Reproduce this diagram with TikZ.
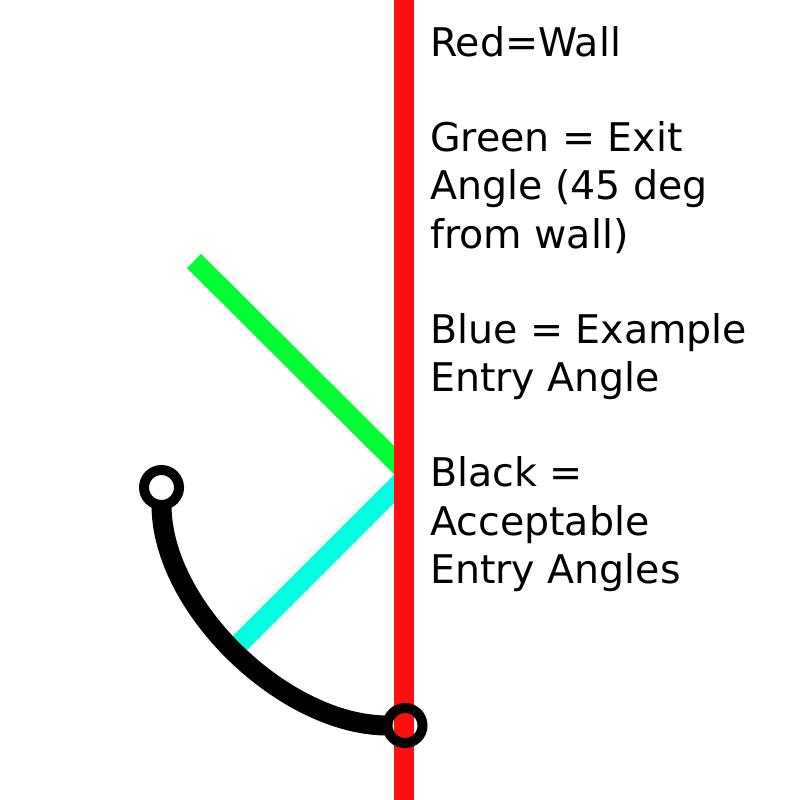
\documentclass[tikz,border=0pt]{standalone}
\usepackage{fontspec}
\setmainfont{DejaVu Sans}
\usetikzlibrary{backgrounds}
\definecolor{wallred}{RGB}{255,16,16}
\definecolor{exitgreen}{RGB}{0,255,50}
\definecolor{entrycyan}{RGB}{0,255,222}
\tikzset{%
	wall/.style={draw=wallred, line width=20pt},
	exitray/.style={draw=exitgreen, line width=20pt},
	entryray/.style={draw=entrycyan, line width=20pt},
	okarc/.style={draw=black, line width=20pt, shorten <=17.5pt, shorten >=17.5pt},
	endpt/.style={draw=black, line width=10pt, circle, minimum size=35pt, inner sep=0pt, outer sep=0pt},
	legend/.style={anchor=base west, align=left, inner sep=0pt,%
		font=\fontsize{39.5}{48.2}\selectfont}
}
\begin{document}
\begin{tikzpicture}[x=1pt, y=-1pt]
	\useasboundingbox (0,0) rectangle (800,800);
	\coordinate (wtop) at (404,0);
	\coordinate (wbot) at (404,800);
	\coordinate (exithit) at (404,470);
	\coordinate (exitend) at (194,261);
	\coordinate (entryhit) at (404,479);
	\coordinate (entryend) at (237,646);

	\node[endpt] (c1) at (161.5,487.5) {};
	\node[endpt] (c2) at (405,725.5) {};

	\begin{scope}[on background layer]
		\draw[exitray] (exithit) -- (exitend);
		\draw[entryray] (entryhit) -- (entryend);
		\draw[wall] (wtop) -- (wbot);
	\end{scope}
	\draw[okarc] (c1.center) to[out=-90, in=180, looseness=0.9] (c2.center);

	% base anchor sits on the last line
	\node[legend] (red) at (430,56.7) {Red=Wall};
	\node[legend] (green) at (430,248) {Green = Exit\\Angle (45 deg\\from wall)};
	\node[legend] (blue) at (430,391.7) {Blue = Example\\Entry Angle};
	\node[legend] (black) at (430,583.3) {Black =\\Acceptable\\Entry Angles};
\end{tikzpicture}
\end{document}
